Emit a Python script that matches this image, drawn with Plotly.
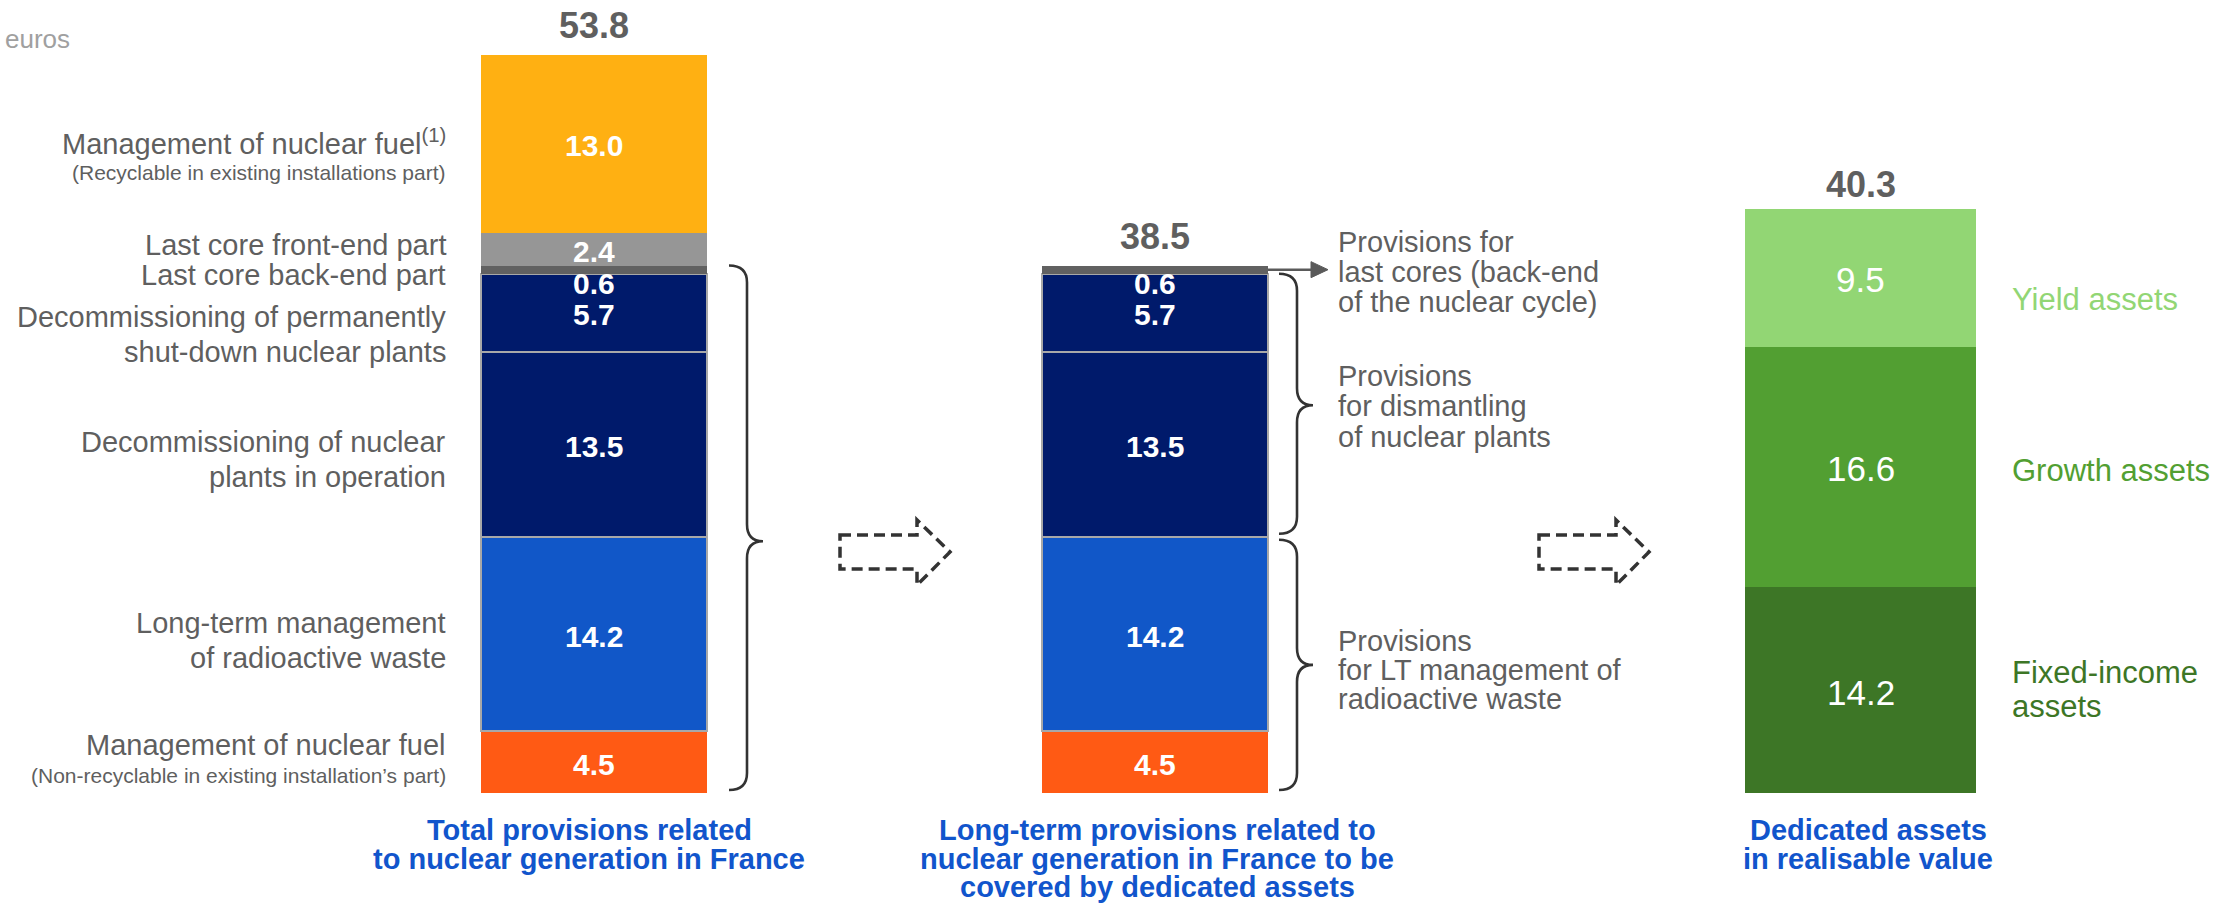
import numpy as np
import plotly.graph_objects as go

FONT = "Liberation Sans, Arial, sans-serif"
GREY_TXT = "#5f5f5f"
BLUE_TXT = "#1155cc"

# ---- data (bottom segment first) ----
SEG_NAMES = ["Management of nuclear fuel (non-recyclable part)",
             "Long-term management of radioactive waste",
             "Decommissioning of nuclear plants in operation",
             "Decommissioning of permanently shut-down nuclear plants",
             "Last core back-end part",
             "Last core front-end part",
             "Management of nuclear fuel (recyclable part)"]
TOTAL_PROV = [4.5, 14.2, 13.5, 5.7, 0.6, 2.4, 13.0]
LT_PROV = [4.5, 14.2, 13.5, 5.7, 0.6, None, None]
SEG_COLORS = ["#ff5a14", "#1157c8", "#001a6b", "#001a6b", "#616161", "#969696", "#ffb012"]
SEG_BORDER = [False, True, True, True, False, False, False]

ASSET_NAMES = ["Fixed-income<br>assets", "Growth assets", "Yield assets"]
ASSETS = [14.2, 16.6, 9.5]
ASSET_COLORS = ["#3d7626", "#529f32", "#92d674"]

# totals as reported (rounded figures)
TOTALS = [53.8, 38.5, 40.3]

BAR_TITLES = [["Total provisions related", "to nuclear generation in France"],
              ["Long-term provisions related to", "nuclear generation in France to be",
               "covered by dedicated assets"],
              ["Dedicated assets", "in realisable value"]]

# ---- page geometry (window pixels) ----
W, H = 2238, 905
BASE_PX = 793            # y pixel of value 0
S1, S2 = 13.7, 14.49     # px per unit for provisions bars / assets bar
BAR_X = [594, 1155, 1860.5]


def py(wy):
    return 1 - wy / H


def vpx(v, s=S1):
    return BASE_PX - v * s


fig = go.Figure()

for name, v1, v2, col, border in zip(SEG_NAMES, TOTAL_PROV, LT_PROV, SEG_COLORS, SEG_BORDER):
    fig.add_trace(go.Bar(x=BAR_X[:2], y=[v1, v2], name=name, width=226,
                         marker=dict(color=col, line=dict(color="#a8a8a8" if border else col,
                                                          width=2 if border else 0)),
                         hoverinfo="skip"))
for name, v, col in zip(ASSET_NAMES, ASSETS, ASSET_COLORS):
    fig.add_trace(go.Bar(x=[BAR_X[2]], y=[v], name=name, width=231, yaxis="y2",
                         marker=dict(color=col, line=dict(width=0)), hoverinfo="skip"))

ann = []


def txt(x, wy, text, size, color=GREY_TXT, anchor="center", bold=False, **kw):
    ann.append(dict(x=x, y=py(wy), xref="x", yref="paper", text=f"<b>{text}</b>" if bold else text,
                    showarrow=False, xanchor=anchor, yanchor="middle",
                    font=dict(family=FONT, size=size, color=color), **kw))


# values inside provisions bars
for bi, vals in enumerate([TOTAL_PROV, LT_PROV]):
    cum = 0
    for i, v in enumerate(vals):
        if v is None:
            continue
        mid = cum + v / 2
        shift = -2
        if SEG_NAMES[i] == "Last core back-end part":
            mid, shift = cum, -10
        ann.append(dict(x=BAR_X[bi], y=mid, xref="x", yref="y", text=f"<b>{v:.1f}</b>",
                        showarrow=False, yshift=shift,
                        font=dict(family=FONT, size=30, color="white")))
        cum += v
    ann.append(dict(x=BAR_X[bi], y=cum, xref="x", yref="y", text=f"<b>{TOTALS[bi]:.1f}</b>",
                    showarrow=False, yshift=29, font=dict(family=FONT, size=36, color=GREY_TXT)))

cum = 0
for v in ASSETS:
    ann.append(dict(x=BAR_X[2], y=cum + v / 2, xref="x", yref="y2", text=f"{v:.1f}",
                    showarrow=False, yshift=-2, font=dict(family=FONT, size=35, color="white")))
    cum += v
ann.append(dict(x=BAR_X[2], y=cum, xref="x", yref="y2", text=f"<b>{TOTALS[2]:.1f}</b>",
                showarrow=False, yshift=25, font=dict(family=FONT, size=36, color=GREY_TXT)))

# unit
txt(3, 39, "euros", 26, color="#a0a0a0", anchor="left")

# left-hand labels
LX = 448
for t, wy, sz in [("Management of nuclear fuel<sup>(1)</sup>", 142, 29),
                  ("(Recyclable in existing installations part)", 172, 21),
                  ("Last core front-end part", 245, 29),
                  ("Last core back-end part", 275, 29),
                  ("Decommissioning of permanently", 317, 29),
                  ("shut-down nuclear plants", 352, 29),
                  ("Decommissioning of nuclear", 442, 29),
                  ("plants in operation", 477, 29),
                  ("Long-term management", 623, 29),
                  ("of radioactive waste", 658, 29),
                  ("Management of nuclear fuel", 745, 29),
                  ("(Non-recyclable in existing installation\u2019s part)", 775, 21)]:
    txt(LX, wy, t, sz, anchor="right")

# labels right of bar 2
RX = 1336
for t, wy in [("Provisions for", 242), ("last cores (back-end", 272), ("of the nuclear cycle)", 302),
              ("Provisions", 376), ("for dismantling", 406), ("of nuclear plants", 437),
              ("Provisions", 641), ("for LT management of", 670), ("radioactive waste", 699)]:
    txt(RX, wy, t, 29, anchor="left")

# labels right of assets bar
AX = 2010
for t, wy, col in [("Yield assets", 299, ASSET_COLORS[2]), ("Growth assets", 470, ASSET_COLORS[1]),
                   ("Fixed-income", 672, ASSET_COLORS[0]), ("assets", 706, ASSET_COLORS[0])]:
    txt(AX, wy, t, 31, color=col, anchor="left")

# bar titles
TITLE_X = [589, 1157, 1868]
for x, lines in zip(TITLE_X, BAR_TITLES):
    for k, line in enumerate(lines):
        txt(x, 830 + 28.5 * k, line, 29, color=BLUE_TXT, bold=True)

shapes = []


def brace(x0, xv, xt, ytop, ybot, ytip, r=17):
    p = (f"M {x0},{py(ytop)} Q {xv},{py(ytop)} {xv},{py(ytop + r)} "
         f"L {xv},{py(ytip - r)} Q {xv},{py(ytip)} {xt},{py(ytip)} "
         f"Q {xv},{py(ytip)} {xv},{py(ytip + r)} "
         f"L {xv},{py(ybot - r)} Q {xv},{py(ybot)} {x0},{py(ybot)}")
    shapes.append(dict(type="path", path=p, xref="x", yref="paper",
                       line=dict(color="#333333", width=2.6)))


cum_lt = np.cumsum(LT_PROV[:5])
top1 = vpx(cum_lt[-1])
brace(729, 747, 763, top1, BASE_PX - 3, (top1 + BASE_PX) / 2 + 12)
top2, mid2 = vpx(cum_lt[3]), vpx(cum_lt[1])
brace(1279, 1297, 1313, top2, mid2 - 3, (top2 + mid2) / 2)
brace(1279, 1297, 1313, mid2 + 3, BASE_PX - 3, (mid2 + BASE_PX) / 2)


def dashed_arrow(x):
    pts = [(x, 535), (x + 77, 535), (x + 77, 520), (x + 110, 552), (x + 77, 585), (x + 77, 569), (x, 569)]
    p = "M " + " L ".join(f"{a},{py(b)}" for a, b in pts) + " Z"
    shapes.append(dict(type="path", path=p, xref="x", yref="paper",
                       line=dict(color="#333333", width=3.5, dash="11px,6px")))


dashed_arrow(840)
dashed_arrow(1539)

# small arrow from the back-end segment of bar 2
ay = vpx(cum_lt[4] - 0.3)
shapes.append(dict(type="line", x0=1268, x1=1314, y0=py(ay), y1=py(ay), xref="x", yref="paper",
                   line=dict(color="#5a5a5a", width=2.5)))
shapes.append(dict(type="path", xref="x", yref="paper",
                   path=f"M 1311,{py(ay - 8)} L 1328,{py(ay)} L 1311,{py(ay + 8)} Z",
                   fillcolor="#5a5a5a", line=dict(color="#5a5a5a", width=1)))

fig.update_layout(
    width=W, height=H, margin=dict(l=0, r=0, t=0, b=0),
    paper_bgcolor="white", plot_bgcolor="white",
    barmode="stack", bargap=0, showlegend=False,
    xaxis=dict(range=[0, W], visible=False, fixedrange=True),
    yaxis=dict(range=[(BASE_PX - H) / S1, BASE_PX / S1], visible=False, fixedrange=True),
    yaxis2=dict(range=[(BASE_PX - H) / S2, BASE_PX / S2], visible=False,
                overlaying="y", fixedrange=True),
    annotations=ann, shapes=shapes,
)

# drop the default page margin so the figure fills the window exactly
POST = "document.body.style.margin='0';document.body.style.overflow='hidden';"
fig.write_html("out.html", config={"displayModeBar": False}, post_script=POST)
